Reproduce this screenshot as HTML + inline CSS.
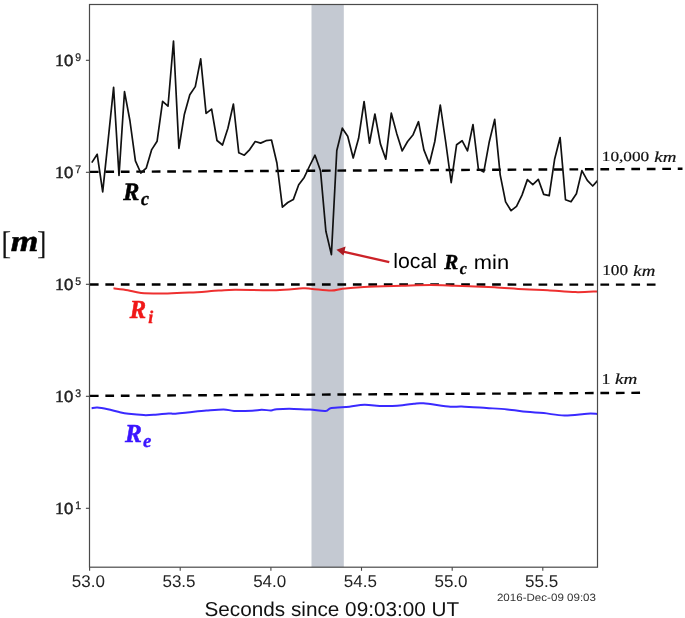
<!DOCTYPE html>
<html><head><meta charset="utf-8"><style>
html,body{margin:0;padding:0;background:#fff;}
body{width:685px;height:618px;overflow:hidden;position:relative;}
svg{position:absolute;left:0;top:0;filter:blur(0.35px);}
text{text-rendering:geometricPrecision;}
.tk{font-family:"Liberation Sans",sans-serif;font-size:17px;fill:#222;}
</style></head><body>
<svg width="685" height="618" viewBox="0 0 685 618">
<rect x="311.5" y="4.5" width="32.3" height="562.7" fill="#c4c9d2"/>
<line x1="89.9" y1="171.9" x2="682.5" y2="168.8" stroke="#000" stroke-width="2.4" stroke-dasharray="8.7 6.77"/>
<line x1="89.9" y1="284.5" x2="655.9" y2="284.6" stroke="#000" stroke-width="2.4" stroke-dasharray="8.7 6.77"/>
<line x1="89.9" y1="395.9" x2="640.4" y2="392.8" stroke="#000" stroke-width="2.4" stroke-dasharray="8.7 6.77"/>
<clipPath id="c"><rect x="89.5" y="4.5" width="508.0" height="562.7"/></clipPath>
<g clip-path="url(#c)" fill="none" stroke-linejoin="round">
<path d="M113.5,288.3 C115.88,288.62 123.20,289.42 127.8,290.2 C132.40,290.98 134.47,292.47 141.1,293.0 C147.73,293.53 159.38,293.48 167.6,293.4 C175.82,293.32 181.85,292.97 190.4,292.5 C198.95,292.03 211.47,291.05 218.9,290.6 C226.33,290.15 225.45,289.87 235.0,289.8 C244.55,289.73 264.90,290.45 276.2,290.2 C287.50,289.95 296.78,288.52 302.8,288.3 C308.82,288.08 307.55,288.52 312.3,288.9 C317.05,289.28 326.25,290.63 331.3,290.6 C336.35,290.57 337.15,289.30 342.6,288.7 C348.05,288.10 354.12,287.48 364.0,287.0 C373.88,286.52 390.83,286.12 401.9,285.8 C412.97,285.48 421.55,285.10 430.4,285.1 C439.25,285.10 447.57,285.57 455.0,285.8 C462.43,286.03 468.40,286.27 475.0,286.5 C481.60,286.73 486.42,286.75 494.6,287.2 C502.78,287.65 515.23,288.70 524.1,289.2 C532.97,289.70 539.25,289.72 547.8,290.2 C556.35,290.68 567.12,291.90 575.4,292.1 C583.68,292.30 593.82,291.52 597.5,291.4" stroke="#ee3030" stroke-width="2"/>
<path d="M91.6,408.3 C92.55,408.17 94.60,407.35 97.3,407.5 C100.00,407.65 104.15,408.43 107.8,409.2 C111.45,409.97 115.73,411.33 119.2,412.1 C122.67,412.87 124.50,413.30 128.6,413.8 C132.70,414.30 139.37,414.95 143.8,415.1 C148.23,415.25 151.08,414.98 155.2,414.7 C159.32,414.42 165.33,413.55 168.5,413.4 C171.67,413.25 171.03,413.95 174.2,413.8 C177.37,413.65 182.13,413.03 187.5,412.5 C192.87,411.97 200.38,411.12 206.4,410.6 C212.42,410.08 218.98,409.35 223.6,409.4 C228.22,409.45 229.35,410.68 234.1,410.9 C238.85,411.12 247.52,410.88 252.1,410.7 C256.68,410.52 258.43,409.85 261.6,409.8 C264.77,409.75 268.57,410.50 271.1,410.4 C273.63,410.30 273.00,409.45 276.8,409.2 C280.60,408.95 288.37,408.83 293.9,408.9 C299.43,408.97 304.72,409.27 310.0,409.6 C315.28,409.93 322.05,411.17 325.6,410.9 C329.15,410.63 327.35,408.70 331.3,408.0 C335.25,407.30 343.77,407.23 349.3,406.7 C354.83,406.17 358.80,404.90 364.5,404.8 C370.20,404.70 377.17,406.03 383.5,406.1 C389.83,406.17 397.43,405.60 402.5,405.2 C407.57,404.80 410.40,404.02 413.9,403.7 C417.40,403.38 417.42,402.80 423.5,403.3 C429.58,403.80 444.03,406.17 450.4,406.7 C456.77,407.23 455.70,406.28 461.7,406.5 C467.70,406.72 478.80,407.52 486.4,408.0 C494.00,408.48 500.60,408.77 507.3,409.4 C514.00,410.03 520.55,411.18 526.6,411.8 C532.65,412.42 537.28,412.47 543.6,413.1 C549.92,413.73 557.22,415.50 564.5,415.6 C571.78,415.70 581.80,413.98 587.3,413.7 C592.80,413.42 595.80,413.87 597.5,413.9" stroke="#3a2aff" stroke-width="2.0"/>
<polyline points="91.8,162.6 97.2,154.3 102.7,191.8 108.1,140.7 113.6,87.3 119.0,175.5 124.5,91.7 129.9,120.5 135.4,160.9 140.8,173.0 146.2,168.2 151.7,149.6 157.1,141.2 162.6,101.4 168.0,106.2 173.5,41.0 178.9,148.3 184.4,114.2 189.8,94.8 195.3,86.6 200.7,58.8 206.1,113.4 211.6,109.1 217.0,140.5 222.5,145.0 227.9,128.3 233.4,104.0 238.8,152.8 244.3,155.2 249.7,149.6 255.2,141.5 260.6,143.1 266.0,140.7 271.5,140.0 276.9,163.0 282.4,207.1 287.8,202.5 293.3,199.6 298.7,184.7 304.2,177.4 309.6,166.0 315.0,155.2 320.5,170.7 325.9,231.3 331.4,254.6 336.8,150.5 342.3,128.2 347.7,136.3 353.2,158.0 358.6,138.3 364.1,101.5 369.5,143.1 374.9,114.0 380.4,143.9 385.8,159.2 391.3,113.2 396.7,133.4 402.2,150.9 407.6,141.5 413.1,134.7 418.5,121.7 423.9,149.9 429.4,163.8 434.8,141.5 440.3,105.0 445.7,142.0 451.2,182.7 456.6,144.7 462.1,140.7 467.5,150.9 473.0,124.5 478.4,169.0 483.8,171.9 489.3,141.7 494.7,119.4 500.2,174.8 505.6,201.9 511.1,210.7 516.5,206.4 522.0,195.1 527.4,179.6 532.8,184.6 538.3,179.3 543.7,194.4 549.2,195.7 554.6,159.3 560.1,137.5 565.5,199.7 571.0,201.8 576.4,193.7 581.9,170.6 587.3,180.3 592.7,186.0 598.2,179.9" stroke="#111" stroke-width="1.7"/>
</g>
<rect x="89.5" y="4.5" width="508.0" height="562.7" fill="none" stroke="#4a4a4a" stroke-width="1.2"/>
<line x1="89.6" y1="567.2" x2="89.6" y2="570.8000000000001" stroke="#444" stroke-width="1.1"/>
<text x="88.4" y="586.6" class="tk" text-anchor="middle">53.0</text>
<line x1="180.2" y1="567.2" x2="180.2" y2="570.8000000000001" stroke="#444" stroke-width="1.1"/>
<text x="179.0" y="586.6" class="tk" text-anchor="middle">53.5</text>
<line x1="270.9" y1="567.2" x2="270.9" y2="570.8000000000001" stroke="#444" stroke-width="1.1"/>
<text x="269.7" y="586.6" class="tk" text-anchor="middle">54.0</text>
<line x1="361.5" y1="567.2" x2="361.5" y2="570.8000000000001" stroke="#444" stroke-width="1.1"/>
<text x="360.3" y="586.6" class="tk" text-anchor="middle">54.5</text>
<line x1="452.2" y1="567.2" x2="452.2" y2="570.8000000000001" stroke="#444" stroke-width="1.1"/>
<text x="451.0" y="586.6" class="tk" text-anchor="middle">55.0</text>
<line x1="542.8" y1="567.2" x2="542.8" y2="570.8000000000001" stroke="#444" stroke-width="1.1"/>
<text x="541.6" y="586.6" class="tk" text-anchor="middle">55.5</text>
<line x1="85.9" y1="60.3" x2="89.5" y2="60.3" stroke="#444" stroke-width="1.1"/>
<line x1="85.9" y1="172.3" x2="89.5" y2="172.3" stroke="#444" stroke-width="1.1"/>
<line x1="85.9" y1="284.3" x2="89.5" y2="284.3" stroke="#444" stroke-width="1.1"/>
<line x1="85.9" y1="396.3" x2="89.5" y2="396.3" stroke="#444" stroke-width="1.1"/>
<line x1="85.9" y1="508.3" x2="89.5" y2="508.3" stroke="#444" stroke-width="1.1"/>
<line x1="389.3" y1="262.1" x2="342" y2="251.4" stroke="#cc2228" stroke-width="2.3"/>
<polygon points="336.4,249.7 345.6,246.6 343.5,255.5" fill="#a81b22"/>
<text x="1" y="253.5" font-family='"Liberation Serif",serif' font-size="34" font-weight="normal" font-style="normal" fill="#111" transform="matrix(0.8817,0,0,0.9603,0.396,10.400)">[</text>
<text x="10" y="252" font-family='"Liberation Serif",serif' font-size="30" font-weight="bold" font-style="italic" fill="#000" stroke="#000" stroke-width="0.5" transform="matrix(1.1856,0,0,1.0029,-1.017,-1.273)">m</text>
<text x="36" y="253.5" font-family='"Liberation Serif",serif' font-size="34" font-weight="normal" font-style="normal" fill="#111" transform="matrix(0.8451,0,0,0.9603,6.682,10.400)">]</text>
<text x="122.7" y="200.6" font-family='"Liberation Serif",serif' font-size="27" font-weight="bold" font-style="italic" fill="#000" stroke="#000" stroke-width="0.6" transform="matrix(0.8934,0,0,0.9315,13.539,12.998)">R</text>
<text x="140.6" y="205.6" font-family='"Liberation Serif",serif' font-size="22" font-weight="bold" font-style="italic" fill="#000" stroke="#000" stroke-width="0.4" transform="matrix(0.8199,0,0,0.8771,25.622,24.425)">c</text>
<text x="129" y="318.9" font-family='"Liberation Serif",serif' font-size="27" font-weight="bold" font-style="italic" fill="#f01818" stroke="#f01818" stroke-width="0.6" transform="matrix(0.9075,0,0,0.9664,12.709,9.947)">R</text>
<text x="148" y="324" font-family='"Liberation Serif",serif' font-size="20" font-weight="bold" font-style="italic" fill="#f01818" stroke="#f01818" stroke-width="0.4" transform="matrix(0.8896,0,0,0.8966,16.549,32.956)">i</text>
<text x="124.6" y="442.8" font-family='"Liberation Serif",serif' font-size="27" font-weight="bold" font-style="italic" fill="#3a14ff" stroke="#3a14ff" stroke-width="0.6" transform="matrix(0.9376,0,0,0.9564,8.232,18.876)">R</text>
<text x="143" y="448" font-family='"Liberation Serif",serif' font-size="22" font-weight="bold" font-style="italic" fill="#3a14ff" stroke="#3a14ff" stroke-width="0.4" transform="matrix(0.8569,0,0,0.8665,20.587,59.293)">e</text>
<text x="394" y="268.8" font-family='"Liberation Sans",sans-serif' font-size="21" font-weight="normal" font-style="normal" fill="#000" transform="matrix(1.0134,0,0,0.9915,-6.005,1.850)">local</text>
<text x="443.5" y="269.1" font-family='"Liberation Serif",serif' font-size="22" font-weight="bold" font-style="italic" fill="#000" stroke="#000" stroke-width="0.5" transform="matrix(0.9539,0,0,0.9722,21.181,7.079)">R</text>
<text x="459.4" y="274.3" font-family='"Liberation Serif",serif' font-size="17" font-weight="bold" font-style="italic" fill="#000" stroke="#000" stroke-width="0.3" transform="matrix(0.9480,0,0,1.0053,24.243,-2.079)">c</text>
<text x="475" y="269.1" font-family='"Liberation Sans",sans-serif' font-size="21" font-weight="normal" font-style="normal" fill="#000" transform="matrix(1.0429,0,0,0.9510,-21.512,13.478)">min</text>
<text x="603" y="161.9" font-family='"Liberation Serif",serif' font-size="15.5" font-weight="normal" font-style="normal" fill="#111" stroke="#111" stroke-width="0.2" transform="matrix(1.1135,0,0,0.8995,-69.654,15.677)">10,000</text>
<text x="654.5" y="161.8" font-family='"Liberation Serif",serif' font-size="15.5" font-weight="normal" font-style="italic" fill="#111" stroke="#111" stroke-width="0.2" transform="matrix(1.2226,0,0,0.9718,-145.849,4.766)">km</text>
<text x="603.5" y="275.8" font-family='"Liberation Serif",serif' font-size="15.5" font-weight="normal" font-style="normal" fill="#111" stroke="#111" stroke-width="0.2" transform="matrix(1.1104,0,0,0.9624,-67.883,9.534)">100</text>
<text x="633.3" y="275.8" font-family='"Liberation Serif",serif' font-size="15.5" font-weight="normal" font-style="italic" fill="#111" stroke="#111" stroke-width="0.2" transform="matrix(1.2131,0,0,1.0179,-134.932,-4.724)">km</text>
<text x="603" y="383.9" font-family='"Liberation Serif",serif' font-size="15.5" font-weight="normal" font-style="normal" fill="#111" stroke="#111" stroke-width="0.2" transform="matrix(1.1486,0,0,0.9739,-91.053,9.923)">1</text>
<text x="615.2" y="383.9" font-family='"Liberation Serif",serif' font-size="15.5" font-weight="normal" font-style="italic" fill="#111" stroke="#111" stroke-width="0.2" transform="matrix(1.2347,0,0,0.9795,-144.484,7.804)">km</text>
<text x="205" y="615.7" font-family='"Liberation Sans",sans-serif' font-size="21" font-weight="normal" font-style="normal" fill="#111" transform="matrix(0.9873,0,0,0.9602,2.115,24.524)">Seconds since 09:03:00 UT</text>
<text x="497" y="600.9" font-family='"Liberation Sans",sans-serif' font-size="12" font-weight="normal" font-style="normal" fill="#333" transform="matrix(0.9643,0,0,0.8835,17.663,69.916)">2016-Dec-09 09:03</text>
<text x="55" y="67.1" font-family='"Liberation Sans",sans-serif' font-size="18" font-weight="normal" font-style="normal" fill="#222" stroke="#222" stroke-width="0.5" transform="translate(0,0.00) matrix(0.9306,0,0,0.8911,3.893,6.696)"><tspan font-family='"Liberation Serif",serif' font-size="19">1</tspan>0</text>
<text x="55" y="67.1" font-family='"Liberation Sans",sans-serif' font-size="18" font-weight="normal" font-style="normal" fill="#222" stroke="#222" stroke-width="0.5" transform="translate(0,112.00) matrix(0.9306,0,0,0.8911,3.893,6.696)"><tspan font-family='"Liberation Serif",serif' font-size="19">1</tspan>0</text>
<text x="55" y="67.1" font-family='"Liberation Sans",sans-serif' font-size="18" font-weight="normal" font-style="normal" fill="#222" stroke="#222" stroke-width="0.5" transform="translate(0,224.00) matrix(0.9306,0,0,0.8911,3.893,6.696)"><tspan font-family='"Liberation Serif",serif' font-size="19">1</tspan>0</text>
<text x="55" y="67.1" font-family='"Liberation Sans",sans-serif' font-size="18" font-weight="normal" font-style="normal" fill="#222" stroke="#222" stroke-width="0.5" transform="translate(0,336.00) matrix(0.9306,0,0,0.8911,3.893,6.696)"><tspan font-family='"Liberation Serif",serif' font-size="19">1</tspan>0</text>
<text x="55" y="67.1" font-family='"Liberation Sans",sans-serif' font-size="18" font-weight="normal" font-style="normal" fill="#222" stroke="#222" stroke-width="0.5" transform="translate(0,448.00) matrix(0.9306,0,0,0.8911,3.893,6.696)"><tspan font-family='"Liberation Serif",serif' font-size="19">1</tspan>0</text>
<text x="75" y="60.9" font-family='"Liberation Sans",sans-serif' font-size="12.5" font-weight="normal" font-style="normal" fill="#222" stroke="#222" stroke-width="0.3" transform="translate(0,0.00) matrix(0.8345,0,0,0.8867,12.668,6.815)">9</text>
<text x="75" y="60.9" font-family='"Liberation Sans",sans-serif' font-size="12.5" font-weight="normal" font-style="normal" fill="#222" stroke="#222" stroke-width="0.3" transform="translate(0,112.00) matrix(0.8345,0,0,0.8867,12.668,6.815)">7</text>
<text x="75" y="60.9" font-family='"Liberation Sans",sans-serif' font-size="12.5" font-weight="normal" font-style="normal" fill="#222" stroke="#222" stroke-width="0.3" transform="translate(0,224.00) matrix(0.8345,0,0,0.8867,12.668,6.815)">5</text>
<text x="75" y="60.9" font-family='"Liberation Sans",sans-serif' font-size="12.5" font-weight="normal" font-style="normal" fill="#222" stroke="#222" stroke-width="0.3" transform="translate(0,336.00) matrix(0.8345,0,0,0.8867,12.668,6.815)">3</text>
<text x="75" y="60.9" font-family='"Liberation Sans",sans-serif' font-size="12.5" font-weight="normal" font-style="normal" fill="#222" stroke="#222" stroke-width="0.3" transform="translate(0,448.00) matrix(0.8345,0,0,0.8867,12.668,6.815)">1</text>
</svg>
</body></html>
